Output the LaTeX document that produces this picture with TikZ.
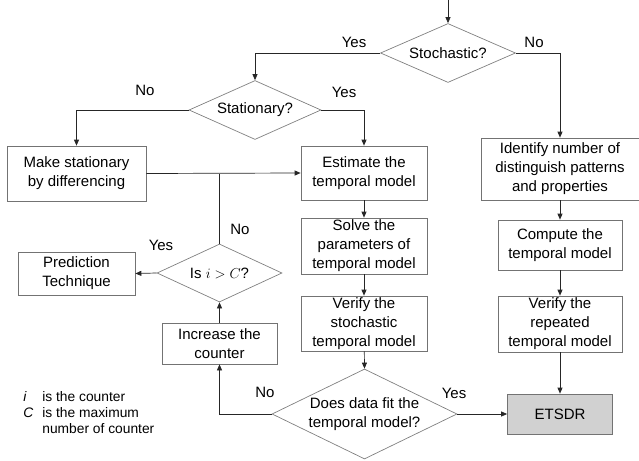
\documentclass[tikz,border=0pt]{standalone}
\usepackage{fontspec}
\setmainfont{Liberation Sans}
\usepackage{tikz}
\usetikzlibrary{arrows.meta,shapes.geometric}

\begin{document}
\begin{tikzpicture}[x=1pt, y=-1pt, ->, >={Triangle[length=6pt,width=5pt]}, line width=0.7pt, draw=black!85, font=\fontsize{15}{19}\selectfont]

        \tikzstyle{box}=[rectangle, draw=black!55, fill=white, align=center, inner sep=0pt, minimum width=126pt]
        \tikzstyle{decide}=[diamond, aspect=2, draw=black!50, align=center, inner sep=0pt]
        \tikzstyle{lbl}=[inner sep=0pt]

        \useasboundingbox (0,0) rectangle (639,460);

        \node[decide, minimum width=135pt, minimum height=59pt] (stoch) at (448,53)    {Stochastic?};
        \node[decide, minimum width=132pt, minimum height=59pt] (stat)  at (255,110)   {Stationary?};
        \node[box, minimum width=139pt, minimum height=55pt]    (make)  at (76.5,173.5) {Make stationary\\by differencing};
        \node[box, minimum height=54pt]                         (est)   at (364,173)   {Estimate the\\temporal model};
        \node[box, minimum height=56pt]                         (solve) at (364,246)   {Solve the\\parameters of\\temporal model};
        \node[box, minimum height=55pt]                         (verS)  at (364,323.5) {Verify the\\stochastic\\temporal model};
        \node[decide, minimum width=185pt, minimum height=90pt] (fit)   at (364.5,414) {Does data fit the\\temporal model?};
        \node[box, minimum width=158pt, minimum height=62pt]    (ident) at (560,169)   {Identify number of\\distinguish patterns\\and properties};
        \node[box, minimum width=124pt, minimum height=50pt]    (comp)  at (560,245)   {Compute the\\temporal model};
        \node[box, minimum width=124pt, minimum height=56pt]    (verR)  at (560,324)   {Verify the\\repeated\\temporal model};
        \node[box, fill=black!18, minimum width=105pt, minimum height=40pt] (etsdr) at (560,414) {ETSDR};
        \node[decide, minimum width=125pt, minimum height=58pt] (isC)   at (219.5,273) {Is $i > C$?};
        \node[box, minimum width=117pt, minimum height=43pt]    (pred)  at (76.5,273.5) {Prediction\\Technique};
        \node[box, minimum width=115pt, minimum height=41pt]    (inc)   at (219.5,343.5) {Increase the\\counter};

        % branch labels
        \node[lbl] (yesStoch) at (354,42)  {Yes};
        \node[lbl] (noStoch)  at (534,42)  {No};
        \node[lbl] (noStat)   at (145,90)  {No};
        \node[lbl] (yesStat)  at (344,92)  {Yes};
        \node[lbl] (noIsC)    at (240,229) {No};
        \node[lbl] (yesIsC)   at (161,245) {Yes};
        \node[lbl] (noFit)    at (265,392) {No};
        \node[lbl] (yesFit)   at (454,393) {Yes};

        \node[lbl, anchor=west, font=\fontsize{13.8}{16}\selectfont] (legend) at (23,414)
            {\begin{tabular}{@{}p{19pt}@{}l@{}}
             \textit{i} & is the counter\\
             \textit{C} & is the maximum\\
                        & number of counter
             \end{tabular}};

        \coordinate (start) at (448,0);
        \coordinate (junc)  at (isC.north |- make.east);

        \draw (start)      -- (stoch.north);
        \draw (stoch.west) -| (stat.north);
        \draw (stoch.east) -| (ident.north);
        \draw (stat.west)  -| (make.north);
        \draw (stat.east)  -| (est.north);
        \draw (make.east)  -- (est.west);
        \draw[-] (isC.north) -- (junc);
        \draw (isC.west)   -- (pred.east);
        \draw (inc.north)  -- (isC.south);
        \draw (est)   -- (solve);
        \draw (solve) -- (verS);
        \draw (verS)  -- (fit.north);
        \draw (fit.west)   -| (inc.south);
        \draw (fit.east)   -- (etsdr.west);
        \draw (ident) -- (comp);
        \draw (comp)  -- (verR);
        \draw (verR)  -- (etsdr);

\end{tikzpicture}
\end{document}
